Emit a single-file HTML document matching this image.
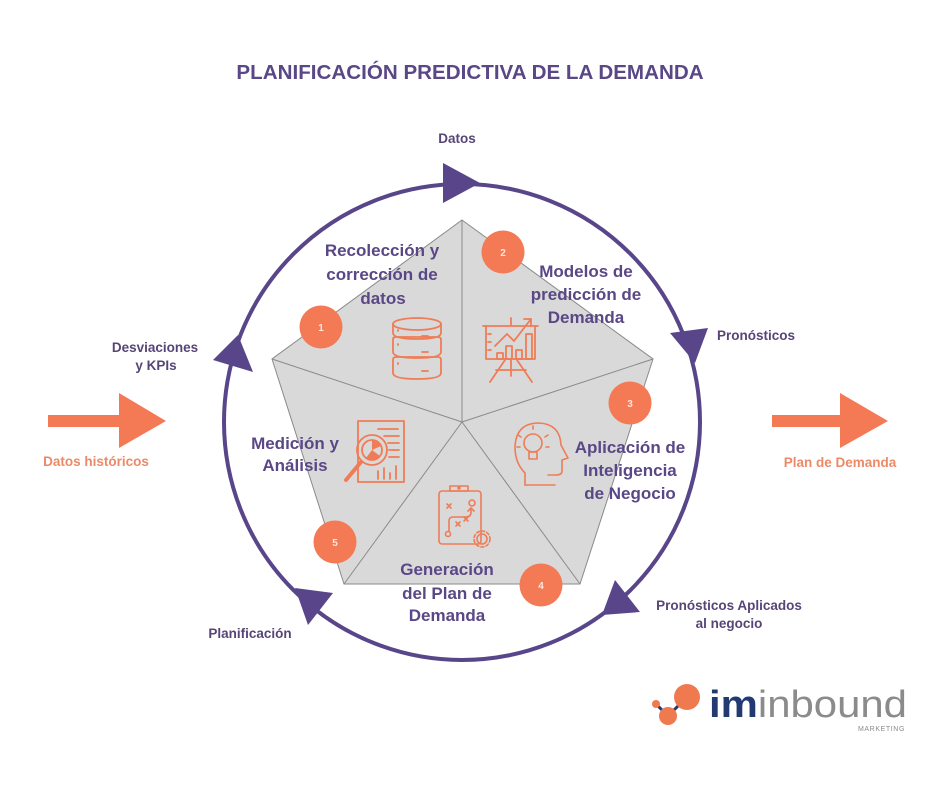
<!DOCTYPE html>
<html><head><meta charset="utf-8"><style>
html,body{margin:0;padding:0;background:#fff;}
svg{display:block;}
text{font-family:"Liberation Sans",sans-serif;}
</style></head><body>
<svg width="940" height="788" viewBox="0 0 940 788" xmlns="http://www.w3.org/2000/svg">
<rect width="940" height="788" fill="#fff"/>
<text x="470" y="79" text-anchor="middle" font-size="20.6" font-weight="bold" fill="#5a4785">PLANIFICACIÓN PREDICTIVA DE LA DEMANDA</text>

<!-- cycle circle -->
<circle cx="462" cy="422" r="238" fill="none" stroke="#59468a" stroke-width="4"/>
<g fill="#59468a">
<polygon points="443,163 443,203 480,183"/>
<polygon points="670,333 708,328 695,363"/>
<polygon points="602,615 615,580 640,612"/>
<polygon points="238,335 213,360 253,372"/>
<polygon points="295,588 333,593 308,625"/>
</g>

<!-- pentagon -->
<polygon points="462,220 653,359 580,584 344,584 272,359" fill="#d9d9d9" stroke="#8a8a8a" stroke-width="1"/>
<g stroke="#8a8a8a" stroke-width="1">
<line x1="462" y1="422" x2="462" y2="220"/>
<line x1="462" y1="422" x2="653" y2="359"/>
<line x1="462" y1="422" x2="580" y2="584"/>
<line x1="462" y1="422" x2="344" y2="584"/>
<line x1="462" y1="422" x2="272" y2="359"/>
</g>

<!-- orange side arrows -->
<g fill="#f47a55">
<rect x="48" y="415" width="73" height="12"/>
<polygon points="119,393 119,448 166,421"/>
<rect x="772" y="415" width="70" height="12"/>
<polygon points="840,393 840,448 888,421"/>
</g>
<text x="96" y="466" text-anchor="middle" font-size="13.5" font-weight="bold" fill="#ec8a68">Datos históricos</text>
<text x="840" y="467" text-anchor="middle" font-size="13.5" font-weight="bold" fill="#ec8a68">Plan de Demanda</text>

<!-- outside labels -->
<g font-size="13.5" font-weight="bold" fill="#574577">
<text x="457" y="143" text-anchor="middle">Datos</text>
<text x="717" y="340">Pronósticos</text>
<text x="729" y="610" text-anchor="middle">Pronósticos Aplicados</text>
<text x="729" y="628" text-anchor="middle">al negocio</text>
<text x="155" y="352" text-anchor="middle">Desviaciones</text>
<text x="156" y="370" text-anchor="middle">y KPIs</text>
<text x="250" y="638" text-anchor="middle">Planificación</text>
</g>

<!-- icons -->
<g fill="none" stroke="#ef7c56" stroke-width="1.8" stroke-linecap="round" stroke-linejoin="round">
<!-- database -->
<ellipse cx="417" cy="324" rx="24" ry="6"/>
<path d="M393,324 v9 q0,6 24,6 q24,0 24,-6 v-9"/>
<path d="M393,339 q0,-2 3,-2 M393,340 v12 q0,6 24,6 q24,0 24,-6 v-12 q0,-3 -3,-3 h-42 q-3,0 -3,3"/>
<path d="M393,360 v13 q0,6 24,6 q24,0 24,-6 v-13 q0,-3 -3,-3 h-42 q-3,0 -3,3"/>
<path d="M398,330 v1 M398,344 v1 M398,363 v1 M422,336 h6 M422,352 h6 M422,371 h6"/>
<!-- chart presentation -->
<path d="M483,326 h55 M511,318 v8"/>
<path d="M486,326 v33 h49 v-33"/>
<path d="M488,334 h3 M488,342 h3 M488,350 h3"/>
<rect x="497" y="353" width="6" height="6"/>
<rect x="506" y="346" width="6" height="13"/>
<rect x="516" y="350" width="6" height="9"/>
<rect x="526" y="334" width="6" height="25"/>
<path d="M495,346 L507,334 L514,341 L531,319 M524,319 h7 v7"/>
<path d="M511,359 v17 M505,360 L490,382 M517,360 L532,382 M496,370 h30"/>
<!-- medicion -->
<rect x="358" y="421" width="46" height="61"/>
<path d="M378,429 h20 M384,436 h15 M388,443 h11 M389,450 h10 M389,457 h10"/>
<path d="M378,479 v-8 M384,479 v-11 M390,479 v-6 M396,479 v-13"/>
<circle cx="372" cy="450" r="15"/>
<circle cx="372" cy="450" r="10"/>
<path d="M361,462 L346,480" stroke-width="4"/>
</g>
<path d="M372,450 L372,440 A10,10 0 0 1 381,446 Z M372,450 L380,456 A10,10 0 0 1 366,458 Z" fill="#ef7c56"/>
<g fill="none" stroke="#ef7c56" stroke-width="1.6" stroke-linecap="round" stroke-linejoin="round">
<!-- head -->
<path d="M525,485 L525,473 Q515,463 515,447 Q516,423 539,423 Q560,424 561,445 L568,458 L562,460 L562,471 Q562,475 556,475 L548,475"/>
<path d="M525,485 h30"/>
<circle cx="533" cy="443" r="9"/>
<path d="M529,452 h8 v7 h-8 z"/>
<path d="M533,429 v-3 M521,437 l-3,-2 M545,437 l3,-2 M520,447 h-3 M546,447 h3"/>
<!-- clipboard -->
<rect x="439" y="491" width="42" height="53" rx="3"/>
<path d="M450,491 v-5 h18 v5 z"/>
<circle cx="459" cy="488" r="1"/>
<path d="M447,504 l4,4 M451,504 l-4,4 M472,503 m-3,0 a3,3 0 1 0 6,0 a3,3 0 1 0 -6,0"/>
<path d="M449,531 v-10 q0,-4 4,-4 h13 q5,0 5,-5 v-4 M468,511 l3,-3 l3,3"/>
<circle cx="448" cy="534" r="2.5"/>
<path d="M456,522 l4,4 M460,522 l-4,4 M464,517 l4,4 M468,517 l-4,4"/>
<circle cx="482" cy="539" r="5"/>
<circle cx="482" cy="539" r="8" stroke-dasharray="3 2.3"/>
</g>

<!-- number circles -->
<g fill="#f47a55">
<circle cx="321" cy="327" r="21.5"/>
<circle cx="503" cy="252" r="21.5"/>
<circle cx="630" cy="403" r="21.5"/>
<circle cx="541" cy="585" r="21.5"/>
<circle cx="335" cy="542" r="21.5"/>
</g>
<g font-size="10" font-weight="bold" fill="#fde6dc" text-anchor="middle">
<text x="321" y="331">1</text>
<text x="503" y="256">2</text>
<text x="630" y="407">3</text>
<text x="541" y="589">4</text>
<text x="335" y="546">5</text>
</g>

<!-- segment labels -->
<g font-size="17" font-weight="bold" fill="#5a4785" text-anchor="middle">
<text x="382" y="256">Recolección y</text>
<text x="382" y="280">corrección de</text>
<text x="383" y="304">datos</text>
<text x="586" y="277">Modelos de</text>
<text x="586" y="300">predicción de</text>
<text x="586" y="323">Demanda</text>
<text x="295" y="449">Medición y</text>
<text x="295" y="471">Análisis</text>
<text x="630" y="453">Aplicación de</text>
<text x="630" y="476">Inteligencia</text>
<text x="630" y="499">de Negocio</text>
<text x="447" y="575">Generación</text>
<text x="447" y="599">del Plan de</text>
<text x="447" y="621">Demanda</text>
</g>

<!-- logo -->
<path d="M656,704 L668,716 L687,697" stroke="#223a72" stroke-width="3" fill="none"/>
<circle cx="687" cy="697" r="13" fill="#f07a50"/>
<circle cx="668" cy="716" r="9" fill="#f07a50"/>
<circle cx="656" cy="704" r="4" fill="#f07a50"/>
<text x="709" y="717" font-size="38" textLength="198" lengthAdjust="spacingAndGlyphs"><tspan fill="#223a72" font-weight="bold">im</tspan><tspan fill="#8b8b8b">inbound</tspan></text>
<text x="905" y="731" text-anchor="end" font-size="7" fill="#8b8b8b" letter-spacing="0.6">MARKETING</text>
</svg>
</body></html>
